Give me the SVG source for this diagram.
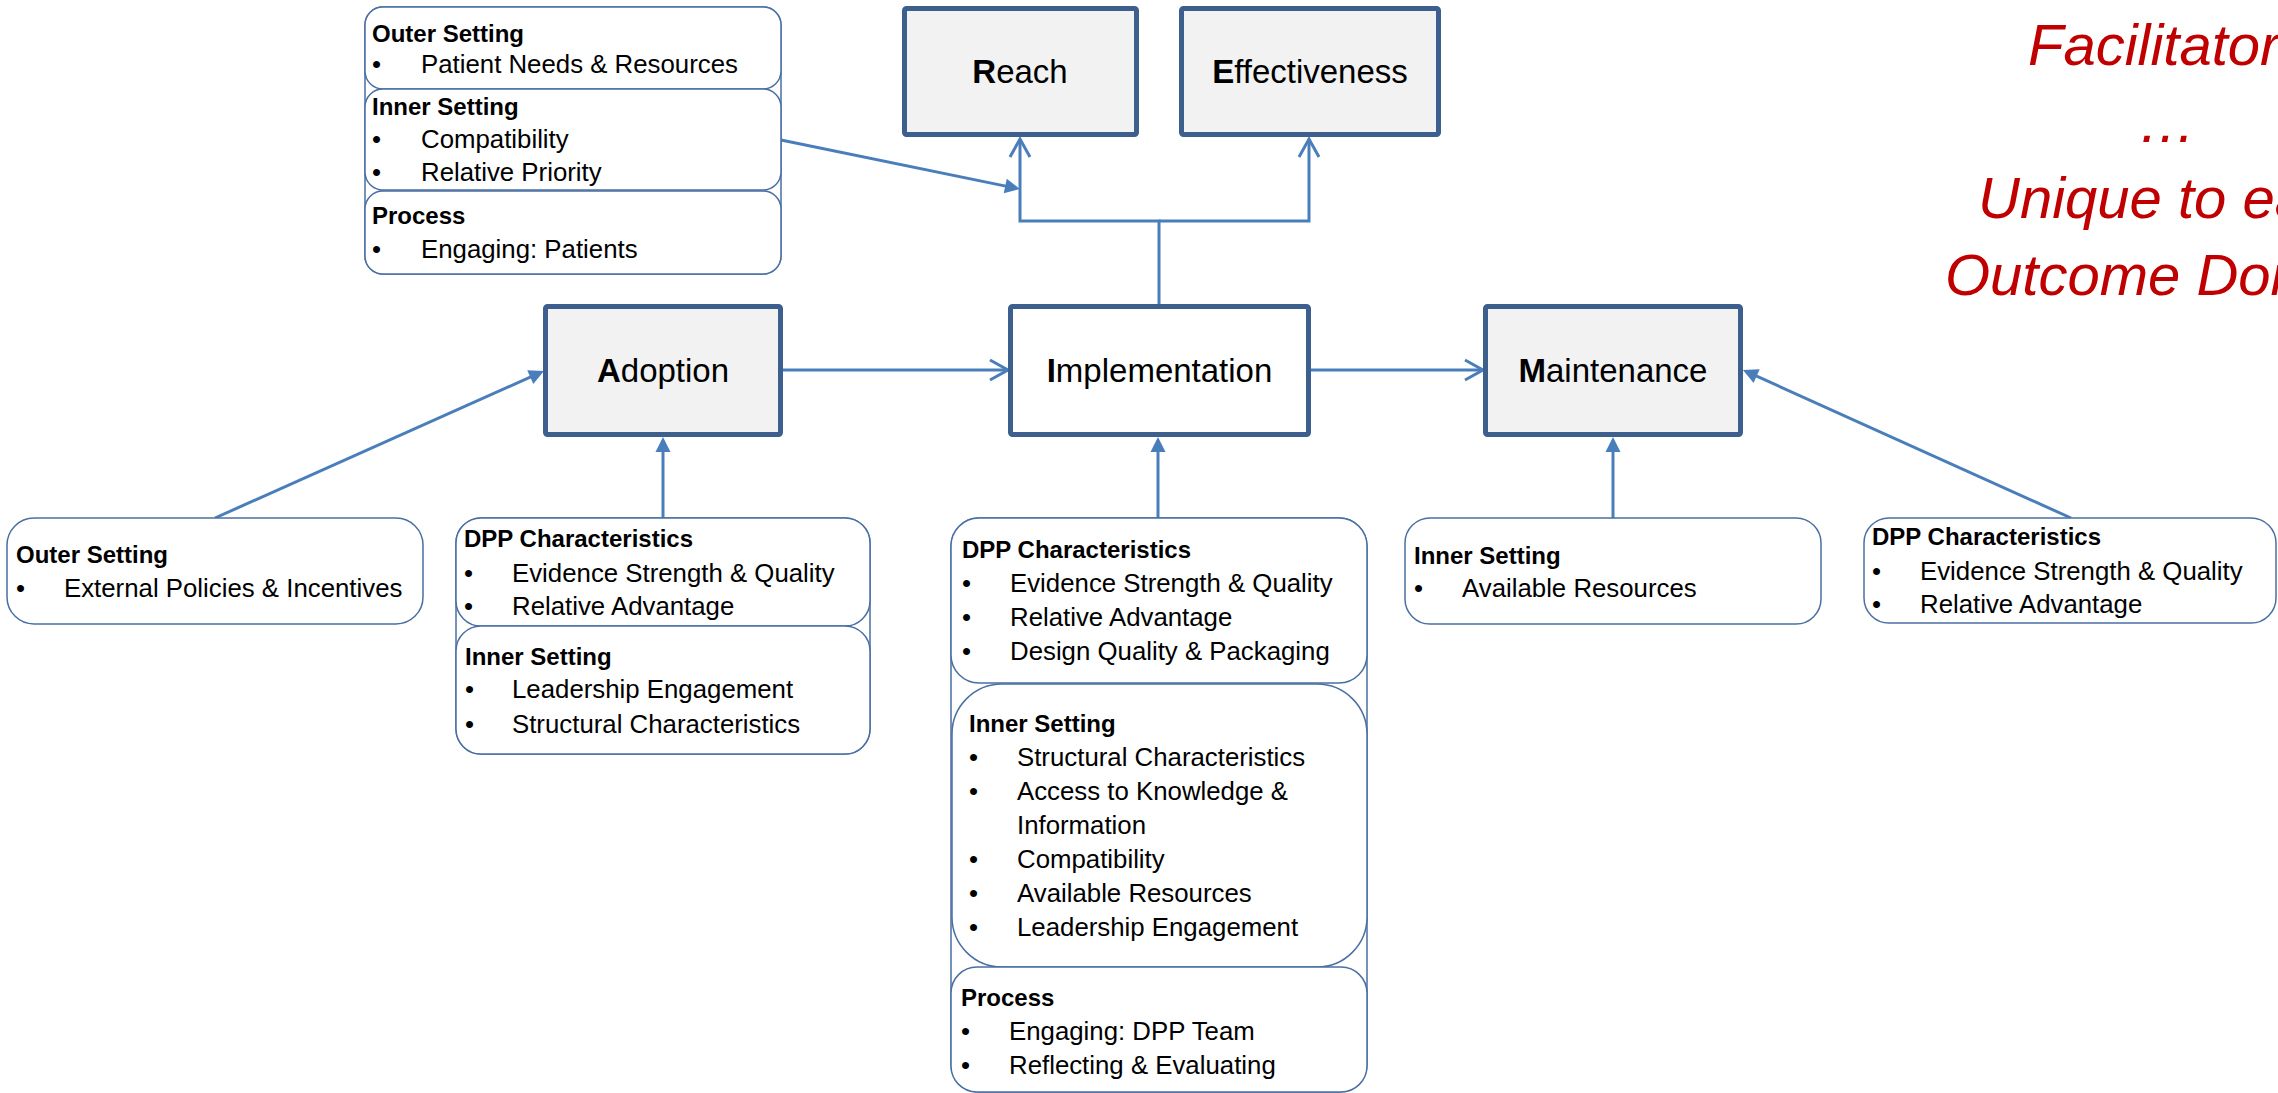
<svg xmlns="http://www.w3.org/2000/svg" width="2278" height="1093" viewBox="0 0 2278 1093">
  <style>
    .main { fill: #f2f2f2; stroke: #3c5f8d; stroke-width: 5; }
    .main.white { fill: #ffffff; }
    .sub { fill: #ffffff; stroke: #4a6fa3; stroke-width: 1.5; }
    .frame { fill: none; stroke: #4a6fa3; stroke-width: 1.5; }
    .lbl { font-family: "Liberation Sans", Arial, sans-serif; font-size: 33px; fill: #000; text-anchor: middle; }
    .hd { font-family: "Liberation Sans", Arial, sans-serif; font-size: 24px; font-weight: bold; fill: #000; }
    .it { font-family: "Liberation Sans", Arial, sans-serif; font-size: 25.8px; fill: #000; }
    .red { font-family: "Liberation Sans", Arial, sans-serif; font-size: 58px; font-style: italic; fill: #c00000; }
    .conn { fill: none; stroke: #4a7ebb; stroke-width: 3; }
    .b { font-weight: bold; }
  </style>
  <defs>
    <marker id="open" markerUnits="userSpaceOnUse" markerWidth="30" markerHeight="30" viewBox="-24 -15 30 30" refX="0" refY="0" orient="auto" overflow="visible">
      <path d="M-18,-10 L0,0 L-18,10" fill="none" stroke="#4a7ebb" stroke-width="3"/>
    </marker>
    <marker id="solid" markerUnits="userSpaceOnUse" markerWidth="30" markerHeight="30" viewBox="-15 -15 30 30" refX="0" refY="0" orient="auto" overflow="visible">
      <path d="M-3,-7.5 L12,0 L-3,7.5 z" fill="#4a7ebb"/>
    </marker>
  </defs>

  <rect width="2278" height="1093" fill="#ffffff"/>

  <!-- connectors -->
  <g id="connectors">
    <path class="conn" d="M781,140 L1008.2,186.6" marker-end="url(#solid)"/>
    <path class="conn" d="M1159,305 V221 H1020 V139" marker-end="url(#open)"/>
    <path class="conn" d="M1159,221 H1309 V139" marker-end="url(#open)"/>
    <path class="conn" d="M783,370 H1008" marker-end="url(#open)"/>
    <path class="conn" d="M1311,370 H1483" marker-end="url(#open)"/>
    <path class="conn" d="M215,518 L533,375.9" marker-end="url(#solid)"/>
    <path class="conn" d="M663,518 V449" marker-end="url(#solid)"/>
    <path class="conn" d="M1158,518 V449" marker-end="url(#solid)"/>
    <path class="conn" d="M1613,518 V449" marker-end="url(#solid)"/>
    <path class="conn" d="M2071,518 L1753.9,374.9" marker-end="url(#solid)"/>
  </g>

  <!-- RE-AIM outcome boxes -->
  <g id="reach">
    <rect class="main" x="904.5" y="8.5" width="232" height="126" rx="2"/>
    <text class="lbl" x="1020" y="83"><tspan class="b">R</tspan>each</text>
  </g>
  <g id="effectiveness">
    <rect class="main" x="1181.5" y="8.5" width="257" height="126" rx="2"/>
    <text class="lbl" x="1310" y="83"><tspan class="b">E</tspan>ffectiveness</text>
  </g>
  <g id="adoption">
    <rect class="main" x="545.5" y="306.5" width="235" height="128" rx="2"/>
    <text class="lbl" x="663" y="382"><tspan class="b">A</tspan>doption</text>
  </g>
  <g id="implementation">
    <rect class="main white" x="1010.5" y="306.5" width="298" height="128" rx="2"/>
    <text class="lbl" x="1159.5" y="382"><tspan class="b">I</tspan>mplementation</text>
  </g>
  <g id="maintenance">
    <rect class="main" x="1485.5" y="306.5" width="255" height="128" rx="2"/>
    <text class="lbl" x="1613" y="382"><tspan class="b">M</tspan>aintenance</text>
  </g>

  <!-- determinants for Reach / Effectiveness -->
  <g id="reach-factors">
    <rect class="frame" x="365" y="7" width="416" height="267" rx="18"/>
    <rect class="sub" x="365" y="7" width="416" height="82" rx="18"/>
    <rect class="sub" x="365" y="89" width="416" height="101" rx="18"/>
    <rect class="sub" x="365" y="191" width="416" height="83" rx="18"/>
    <text class="hd" x="372" y="42">Outer Setting</text>
    <text class="it" x="372" y="73">•</text><text class="it" x="421" y="73">Patient Needs &amp; Resources</text>
    <text class="hd" x="372" y="115">Inner Setting</text>
    <text class="it" x="372" y="148">•</text><text class="it" x="421" y="148">Compatibility</text>
    <text class="it" x="372" y="181">•</text><text class="it" x="421" y="181">Relative Priority</text>
    <text class="hd" x="372" y="224">Process</text>
    <text class="it" x="372" y="258">•</text><text class="it" x="421" y="258">Engaging: Patients</text>
  </g>

  <!-- determinants for Adoption -->
  <g id="adoption-outer">
    <rect class="sub" x="7" y="518" width="416" height="106" rx="27"/>
    <text class="hd" x="16" y="563">Outer Setting</text>
    <text class="it" x="16" y="597">•</text><text class="it" x="64" y="597">External Policies &amp; Incentives</text>
  </g>
  <g id="adoption-factors">
    <rect class="frame" x="456" y="518" width="414" height="236" rx="25"/>
    <rect class="sub" x="456" y="518" width="414" height="108" rx="25"/>
    <rect class="sub" x="456" y="626" width="414" height="128" rx="25"/>
    <text class="hd" x="464" y="547">DPP Characteristics</text>
    <text class="it" x="464" y="582">•</text><text class="it" x="512" y="582">Evidence Strength &amp; Quality</text>
    <text class="it" x="464" y="615">•</text><text class="it" x="512" y="615">Relative Advantage</text>
    <text class="hd" x="465" y="665">Inner Setting</text>
    <text class="it" x="465" y="698">•</text><text class="it" x="512" y="698">Leadership Engagement</text>
    <text class="it" x="465" y="733">•</text><text class="it" x="512" y="733">Structural Characteristics</text>
  </g>

  <!-- determinants for Implementation -->
  <g id="implementation-factors">
    <rect class="frame" x="951" y="518" width="416" height="574" rx="28"/>
    <rect class="sub" x="951" y="518" width="416" height="165" rx="28"/>
    <rect class="sub" x="952" y="684" width="415" height="283" rx="50"/>
    <rect class="sub" x="951" y="967" width="416" height="125" rx="26"/>
    <text class="hd" x="962" y="558">DPP Characteristics</text>
    <text class="it" x="962" y="592">•</text><text class="it" x="1010" y="592">Evidence Strength &amp; Quality</text>
    <text class="it" x="962" y="626">•</text><text class="it" x="1010" y="626">Relative Advantage</text>
    <text class="it" x="962" y="660">•</text><text class="it" x="1010" y="660">Design Quality &amp; Packaging</text>
    <text class="hd" x="969" y="732">Inner Setting</text>
    <text class="it" x="969" y="766">•</text><text class="it" x="1017" y="766">Structural Characteristics</text>
    <text class="it" x="969" y="800">•</text><text class="it" x="1017" y="800">Access to Knowledge &amp;</text>
    <text class="it" x="1017" y="834">Information</text>
    <text class="it" x="969" y="868">•</text><text class="it" x="1017" y="868">Compatibility</text>
    <text class="it" x="969" y="902">•</text><text class="it" x="1017" y="902">Available Resources</text>
    <text class="it" x="969" y="936">•</text><text class="it" x="1017" y="936">Leadership Engagement</text>
    <text class="hd" x="961" y="1006">Process</text>
    <text class="it" x="961" y="1040">•</text><text class="it" x="1009" y="1040">Engaging: DPP Team</text>
    <text class="it" x="961" y="1074">•</text><text class="it" x="1009" y="1074">Reflecting &amp; Evaluating</text>
  </g>

  <!-- determinants for Maintenance -->
  <g id="maintenance-inner">
    <rect class="sub" x="1405" y="518" width="416" height="106" rx="25"/>
    <text class="hd" x="1414" y="564">Inner Setting</text>
    <text class="it" x="1414" y="597">•</text><text class="it" x="1462" y="597">Available Resources</text>
  </g>
  <g id="maintenance-dpp">
    <rect class="sub" x="1864" y="518" width="412" height="105" rx="25"/>
    <text class="hd" x="1872" y="545">DPP Characteristics</text>
    <text class="it" x="1872" y="580">•</text><text class="it" x="1920" y="580">Evidence Strength &amp; Quality</text>
    <text class="it" x="1872" y="613">•</text><text class="it" x="1920" y="613">Relative Advantage</text>
  </g>

  <!-- side note, running off the right edge -->
  <g id="note">
    <text class="red" x="2028" y="65">Facilitator</text>
    <text class="red" x="2167" y="142" text-anchor="middle">…</text>
    <text class="red" x="1978" y="218">Unique to ea</text>
    <text class="red" x="1945" y="295">Outcome Dom</text>
  </g>
</svg>
